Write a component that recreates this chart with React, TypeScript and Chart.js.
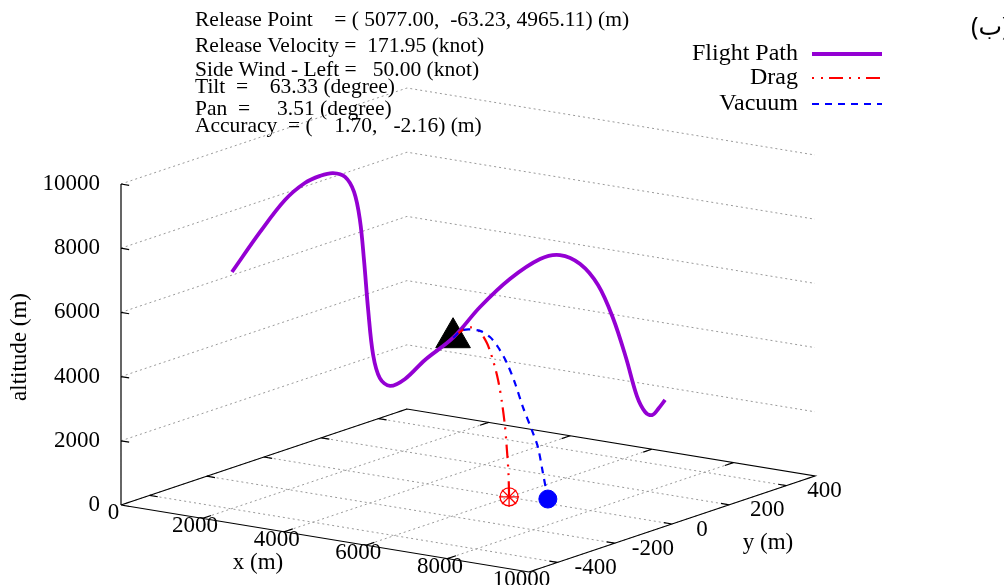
import React, { useEffect, useRef } from 'react';
import { Chart, registerables } from 'chart.js';
Chart.register(...registerables);

// ---- axes ----
const X_RANGE = [0, 10000];
const Y_RANGE = [-500, 500];
const Z_RANGE = [0, 10000];
const X_TICKS = [0, 2000, 4000, 6000, 8000, 10000];
const Y_TICKS = [-400, -200, 0, 200, 400];
const Z_TICKS = [0, 2000, 4000, 6000, 8000, 10000];

// ---- flight path (m) ----
const pathX = [301, 907, 1446, 1877, 2203, 2483, 2743, 2936, 3066, 3152, 3240, 3348, 3498, 3713, 4039, 4471, 5077, 5659, 6306, 6956, 7387, 7819, 8208, 8532, 8811, 9049, 9223, 9375, 9525, 9654];
const pathY = [-155, -143, -133, -125, -118, -113, -108, -104, -102, -100, -98, -96, -94, -89, -83, -75, -63, -52, -40, -27, -19, -10, -3, 3, 9, 13, 17, 19, 22, 25];
const pathZ = [6290, 7629, 8707, 9302, 9570, 9701, 9620, 9181, 8327, 7093, 5551, 4165, 3470, 3255, 3523, 4181, 4965, 6009, 6981, 7701, 7891, 7676, 7081, 6103, 4897, 3748, 3277, 3206, 3449, 3717];

// ---- drag trajectory ----
const dragX = [5077, 5240, 5370, 5502, 5632, 5730, 5814, 5880, 5929, 5961, 5985, 5993];
const dragY = [-63, -52, -42, -33, -24, -17, -11, -7, -3, -1, 1, 2];
const dragZ = [4965, 5206, 5283, 5174, 4797, 4268, 3648, 2960, 2181, 1464, 748, 0];

// ---- vacuum trajectory ----
const vacX = [5077, 5250, 5547, 5721, 5860, 6017, 6157, 6297, 6453, 6559, 6647, 6733];
const vacY = [-63, -53, -36, -26, -18, -9, -1, 7, 16, 22, 27, 32];
const vacZ = [4965, 5212, 5193, 5009, 4704, 4212, 3595, 2850, 2137, 1611, 807, 0];

const releasePoint = [5077.0, -63.23, 4965.11];

const infoLines = [
  'Release Point    = ( 5077.00,  -63.23, 4965.11) (m)',
  'Release Velocity =  171.95 (knot)',
  'Side Wind - Left =   50.00 (knot)',
  'Tilt  =    63.33 (degree)',
  'Pan  =     3.51 (degree)',
  'Accuracy  = (    1.70,   -2.16) (m)',
];
const legendLabels = ['Flight Path', 'Drag', 'Vacuum'];

// ---- view (projection of the 3D box onto the chart plane) ----
const VIEW = {
  origin: [121, 505],
  xVec: [408, 67],
  yVec: [286, -96],
  zVec: [0, -321],
};

function proj(x: number, y: number, z: number) {
  const fx = (x - X_RANGE[0]) / (X_RANGE[1] - X_RANGE[0]);
  const fy = (y - Y_RANGE[0]) / (Y_RANGE[1] - Y_RANGE[0]);
  const fz = (z - Z_RANGE[0]) / (Z_RANGE[1] - Z_RANGE[0]);
  return {
    x: VIEW.origin[0] + fx * VIEW.xVec[0] + fy * VIEW.yVec[0] + fz * VIEW.zVec[0],
    y: VIEW.origin[1] + fx * VIEW.xVec[1] + fy * VIEW.yVec[1] + fz * VIEW.zVec[1],
  };
}
const GAP = { x: NaN, y: null as any };

function series(xs: number[], ys: number[], zs: number[]) {
  return xs.map((x, i) => proj(x, ys[i], zs[i]));
}

const SERIF = '"Liberation Serif", "Times New Roman", serif';
const RED = '#ff0000';
const BLUE = '#0000ff';
const PURPLE = '#9400d3';
const DRAG_DASH = [14, 6, 2, 7, 2, 6];
const VAC_DASH = [7, 6];

export default function App() {
  const ref = useRef<HTMLCanvasElement>(null);
  useEffect(() => {
    document.body.style.margin = '0';
    const [x0, x1] = X_RANGE;
    const [y0, y1] = Y_RANGE;
    const [z0, z1] = Z_RANGE;

    // grid (dotted)
    const grid: any[] = [];
    Z_TICKS.filter((z) => z > z0).forEach((z) => {
      grid.push(proj(x0, y0, z), proj(x0, y1, z), proj(x1, y1, z), GAP);
    });
    X_TICKS.forEach((x) => grid.push(proj(x, y0, 0), proj(x, y1, 0), GAP));
    Y_TICKS.forEach((y) => grid.push(proj(x0, y, 0), proj(x1, y, 0), GAP));

    // border + ticks
    const border: any[] = [
      proj(x0, y0, 0), proj(x1, y0, 0), proj(x1, y1, 0), proj(x0, y1, 0), proj(x0, y0, 0), GAP,
      proj(x0, y0, z0), proj(x0, y0, z1), GAP,
    ];
    const tyl = (y1 - y0) * 0.03;
    const txl = (x1 - x0) * 0.02;
    X_TICKS.forEach((x) => {
      border.push(proj(x, y0, 0), proj(x, y0 + tyl, 0), GAP);
      border.push(proj(x, y1, 0), proj(x, y1 - tyl, 0), GAP);
    });
    Y_TICKS.forEach((y) => {
      border.push(proj(x1, y, 0), proj(x1 - txl, y, 0), GAP);
      border.push(proj(x0, y, 0), proj(x0 + txl, y, 0), GAP);
    });
    Z_TICKS.forEach((z) => border.push(proj(x0, y0, z), proj(x0 + txl, y0, z), GAP));

    const rel = proj(releasePoint[0], releasePoint[1], releasePoint[2]);
    const dragEnd = proj(dragX[dragX.length - 1], dragY[dragY.length - 1], dragZ[dragZ.length - 1]);
    const vacEnd = proj(vacX[vacX.length - 1], vacY[vacY.length - 1], vacZ[vacZ.length - 1]);

    const textPlugin = {
      id: 'texts',
      beforeDraw(chart: any) {
        const c = chart.ctx;
        c.save();
        c.fillStyle = '#ffffff';
        c.fillRect(0, 0, chart.width, chart.height);
        c.restore();
      },
      afterDatasetsDraw(chart: any) {
        const c = chart.ctx;
        const sx = chart.scales.x;
        const sy = chart.scales.y;
        const P = (p: { x: number; y: number }) => ({ x: sx.getPixelForValue(p.x), y: sy.getPixelForValue(p.y) });
        c.save();
        c.fillStyle = '#000';
        c.textBaseline = 'middle';
        // tick labels
        c.font = `23px ${SERIF}`;
        c.textAlign = 'right';
        Z_TICKS.forEach((z) => {
          const p = P(proj(x0, y0, z));
          c.fillText(String(z), p.x - 21, p.y);
        });
        c.textAlign = 'center';
        X_TICKS.forEach((x) => {
          const p = P(proj(x, y0, 0));
          c.fillText(String(x), p.x - 7.5, p.y + 8);
        });
        Y_TICKS.forEach((y) => {
          const p = P(proj(x1, y, 0));
          const off = y === 0 ? 30 : 38;
          c.fillText(String(y), p.x + off, p.y + 5.5);
        });
        // axis titles
        c.fillText('x (m)', sx.getPixelForValue(258), sy.getPixelForValue(563));
        c.fillText('y (m)', sx.getPixelForValue(768), sy.getPixelForValue(543));
        c.save();
        c.translate(sx.getPixelForValue(20), sy.getPixelForValue(347));
        c.rotate(-Math.PI / 2);
        c.fillText('altitude (m)', 0, 0);
        c.restore();
        // info text
        c.textAlign = 'left';
        c.font = `21.5px ${SERIF}`;
        const infoY = [20, 46, 70, 87, 109, 126];
        infoLines.forEach((t, i) => c.fillText(t, sx.getPixelForValue(195), sy.getPixelForValue(infoY[i])));
        // legend
        c.font = `24px ${SERIF}`;
        c.textAlign = 'right';
        const legY = [54, 78, 104];
        const styles = [
          { color: PURPLE, dash: [] as number[], w: 3.8, off: 0 },
          { color: RED, dash: DRAG_DASH, w: 2, off: 20 },
          { color: BLUE, dash: VAC_DASH, w: 2, off: 0 },
        ];
        legendLabels.forEach((t, i) => {
          const y = sy.getPixelForValue(legY[i]);
          c.fillStyle = '#000';
          c.fillText(t, sx.getPixelForValue(798), y);
          c.beginPath();
          c.setLineDash(styles[i].dash);
          c.lineDashOffset = styles[i].off;
          c.strokeStyle = styles[i].color;
          c.lineWidth = styles[i].w;
          c.moveTo(sx.getPixelForValue(812), y);
          c.lineTo(sx.getPixelForValue(882), y);
          c.stroke();
        });
        c.setLineDash([]);
        c.lineDashOffset = 0;
        // corner label
        c.font = '25px "Noto Sans", "DejaVu Sans", sans-serif';
        c.textAlign = 'left';
        c.fillStyle = '#000';
        c.fillText('(ب)', sx.getPixelForValue(971), sy.getPixelForValue(28));
        c.restore();
      },
    };

    const chart = new Chart(ref.current!, {
      type: 'line',
      data: {
        datasets: [
          { data: [dragEnd], showLine: false, pointStyle: 'star', pointRadius: 10, borderColor: RED, backgroundColor: RED, pointBorderWidth: 1.3, order: 0 } as any,
          { data: [dragEnd], showLine: false, pointStyle: 'circle', pointRadius: 9, borderColor: RED, backgroundColor: 'rgba(0,0,0,0)', pointBorderWidth: 1.3, order: 0 } as any,
          { data: [vacEnd], showLine: false, pointStyle: 'circle', pointRadius: 9, borderColor: BLUE, backgroundColor: BLUE, pointBorderWidth: 1, order: 0 } as any,
          { data: series(vacX, vacY, vacZ), borderColor: BLUE, borderWidth: 2.2, borderDash: VAC_DASH, pointRadius: 0, tension: 0.3, order: 1 } as any,
          { data: series(dragX, dragY, dragZ), borderColor: RED, borderWidth: 2.2, borderDash: DRAG_DASH, pointRadius: 0, tension: 0.3, order: 1 } as any,
          { data: series(pathX, pathY, pathZ), borderColor: PURPLE, borderWidth: 3.8, pointRadius: 0, tension: 0.35, order: 2 } as any,
          { data: [rel], showLine: false, pointStyle: 'triangle', pointRadius: 20, borderColor: '#000', backgroundColor: '#000', pointBorderWidth: 1, order: 3 } as any,
          { data: border, borderColor: '#000', borderWidth: 1.2, pointRadius: 0, spanGaps: false, order: 4 } as any,
          { data: grid, borderColor: '#9a9a9a', borderWidth: 1, borderDash: [2, 3], pointRadius: 0, spanGaps: false, order: 5 } as any,
        ],
      },
      options: {
        animation: false,
        responsive: false,
        maintainAspectRatio: false,
        events: [],
        layout: { padding: 0, autoPadding: false },
        plugins: { legend: { display: false }, tooltip: { enabled: false } },
        scales: {
          x: { type: 'linear', min: 0, max: 1004, display: false },
          y: { type: 'linear', min: 0, max: 585, reverse: true, display: false },
        },
      },
      plugins: [textPlugin],
    });
    return () => chart.destroy();
  }, []);
  return (
    <div style={{ width: 1004, height: 585, background: '#fff' }}>
      <canvas ref={ref} width={1004} height={585} style={{ display: 'block' }} />
    </div>
  );
}
